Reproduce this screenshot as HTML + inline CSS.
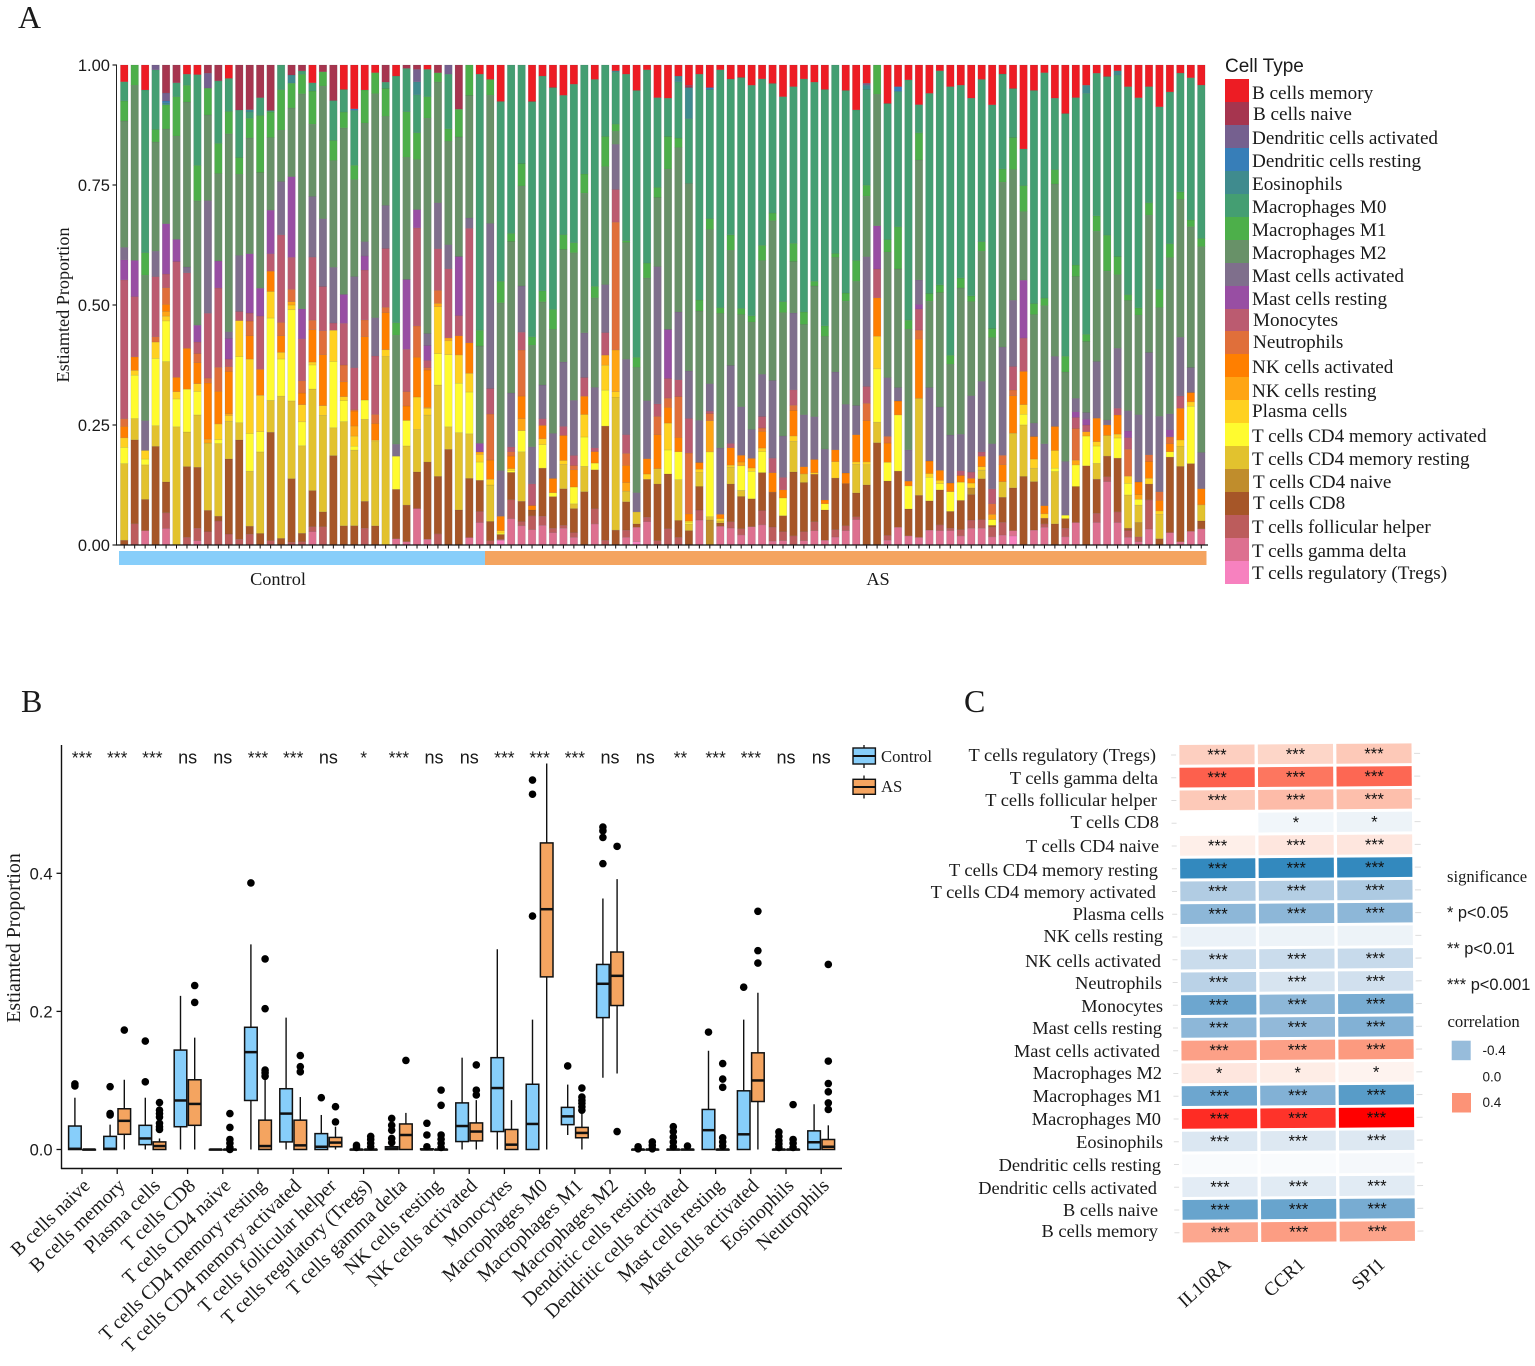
<!DOCTYPE html>
<html lang="en">
<head>
<meta charset="utf-8">
<title>Immune cell infiltration figure</title>
<style>
html,body{margin:0;padding:0;background:#fff;}
svg{display:block;}
.serif{font-family:"Liberation Serif",serif;fill:#1a1a1a;}
.sans{font-family:"Liberation Sans",sans-serif;fill:#1a1a1a;}
.lg{font-size:19.15px;}
.rw{font-size:18.4px;text-anchor:end;}
.letter{font-size:32px;}
</style>
</head>
<body>
<svg id="fig" width="1535" height="1366" viewBox="0 0 1535 1366" xmlns="http://www.w3.org/2000/svg">
  <text class="serif letter" x="18" y="28">A</text>
  <text class="serif letter" x="21" y="712">B</text>
  <text class="serif letter" x="964" y="712">C</text>

  <g id="panelA">
    <text class="serif" font-size="18.2" text-anchor="middle" transform="translate(69,305) rotate(-90)">Estiamted Proportion</text>
    <text class="serif" font-size="18.3" text-anchor="middle" x="278" y="585">Control</text>
    <text class="serif" font-size="18.3" text-anchor="middle" x="878" y="585">AS</text>
  </g>

  <g id="legendA">
    <text class="sans" font-size="19" x="1225" y="72">Cell Type</text>
    <rect x="1225" y="79" width="24" height="23" fill="#ED1C24"/>
    <rect x="1225" y="102" width="24" height="23" fill="#A6354F"/>
    <rect x="1225" y="125" width="24" height="23" fill="#75608F"/>
    <rect x="1225" y="148" width="24" height="23" fill="#377EB8"/>
    <rect x="1225" y="171" width="24" height="23" fill="#3F8B8E"/>
    <rect x="1225" y="194" width="24" height="23" fill="#449E72"/>
    <rect x="1225" y="217" width="24" height="23" fill="#4DAF4A"/>
    <rect x="1225" y="240" width="24" height="23" fill="#689168"/>
    <rect x="1225" y="263" width="24" height="23" fill="#7F6F8C"/>
    <rect x="1225" y="286" width="24" height="23" fill="#984EA3"/>
    <rect x="1225" y="309" width="24" height="23" fill="#BB5B70"/>
    <rect x="1225" y="331" width="24" height="23" fill="#E06F3A"/>
    <rect x="1225" y="354" width="24" height="23" fill="#FF7F00"/>
    <rect x="1225" y="377" width="24" height="23" fill="#FFA514"/>
    <rect x="1225" y="400" width="24" height="23" fill="#FFD121"/>
    <rect x="1225" y="423" width="24" height="23" fill="#FFFB2F"/>
    <rect x="1225" y="446" width="24" height="23" fill="#E2C22E"/>
    <rect x="1225" y="469" width="24" height="23" fill="#C08D2C"/>
    <rect x="1225" y="492" width="24" height="23" fill="#A65628"/>
    <rect x="1225" y="515" width="24" height="23" fill="#BC5C5C"/>
    <rect x="1225" y="538" width="24" height="23" fill="#DD7090"/>
    <rect x="1225" y="561" width="24" height="23" fill="#F781BF"/>
    <text class="serif lg" x="1252" y="99">B cells memory</text>
    <text class="serif lg" x="1253" y="120">B cells naive</text>
    <text class="serif lg" x="1252" y="144">Dendritic cells activated</text>
    <text class="serif lg" x="1252" y="167">Dendritic cells resting</text>
    <text class="serif lg" x="1252" y="190">Eosinophils</text>
    <text class="serif lg" x="1252" y="213">Macrophages M0</text>
    <text class="serif lg" x="1252" y="236">Macrophages M1</text>
    <text class="serif lg" x="1252" y="259">Macrophages M2</text>
    <text class="serif lg" x="1252" y="282">Mast cells activated</text>
    <text class="serif lg" x="1252" y="305">Mast cells resting</text>
    <text class="serif lg" x="1253" y="326">Monocytes</text>
    <text class="serif lg" x="1253" y="348">Neutrophils</text>
    <text class="serif lg" x="1252" y="373">NK cells activated</text>
    <text class="serif lg" x="1252" y="397">NK cells resting</text>
    <text class="serif lg" x="1252" y="417">Plasma cells</text>
    <text class="serif lg" x="1252" y="442">T cells CD4 memory activated</text>
    <text class="serif lg" x="1252" y="465">T cells CD4 memory resting</text>
    <text class="serif lg" x="1253" y="488">T cells CD4 naive</text>
    <text class="serif lg" x="1253" y="509">T cells CD8</text>
    <text class="serif lg" x="1252" y="533">T cells follicular helper</text>
    <text class="serif lg" x="1252" y="557">T cells gamma delta</text>
    <text class="serif lg" x="1252" y="579">T cells regulatory (Tregs)</text>
  </g>

  <g id="panelB">
    <text class="serif" font-size="19.9" text-anchor="middle" transform="translate(20,938) rotate(-90)">Estiamted Proportion</text>
  </g>
  <g id="legendB">
    <line x1="864" y1="745" x2="864" y2="768" stroke="#111" stroke-width="1.3"/>
    <rect x="853" y="748" width="22.4" height="16" fill="#87CEFA" stroke="#111" stroke-width="1.4"/>
    <line x1="853" y1="756" x2="875.4" y2="756" stroke="#111" stroke-width="2"/>
    <text class="serif" font-size="16.7" x="881" y="762">Control</text>
    <line x1="864" y1="775.5" x2="864" y2="798.5" stroke="#111" stroke-width="1.3"/>
    <rect x="853" y="779.3" width="22.4" height="15" fill="#F4A460" stroke="#111" stroke-width="1.4"/>
    <line x1="853" y1="787" x2="875.4" y2="787" stroke="#111" stroke-width="2"/>
    <text class="serif" font-size="16.7" x="881" y="792">AS</text>
  </g>

  <g id="panelC">
    <g id="heatCells" transform="rotate(-0.4 1179 745)"></g>
    <text class="serif rw" x="1156" y="761">T cells regulatory (Tregs)</text>
    <text class="serif rw" x="1158" y="784">T cells gamma delta</text>
    <text class="serif rw" x="1157" y="806">T cells follicular helper</text>
    <text class="serif rw" x="1159" y="828">T cells CD8</text>
    <text class="serif rw" x="1159" y="852">T cells CD4 naive</text>
    <text class="serif rw" x="1158" y="876">T cells CD4 memory resting</text>
    <text class="serif rw" x="1156" y="898">T cells CD4 memory activated</text>
    <text class="serif rw" x="1164" y="920">Plasma cells</text>
    <text class="serif rw" x="1163" y="942">NK cells resting</text>
    <text class="serif rw" x="1161" y="967">NK cells activated</text>
    <text class="serif rw" x="1162" y="989">Neutrophils</text>
    <text class="serif rw" x="1163" y="1012">Monocytes</text>
    <text class="serif rw" x="1162" y="1034">Mast cells resting</text>
    <text class="serif rw" x="1160" y="1057">Mast cells activated</text>
    <text class="serif rw" x="1162" y="1079">Macrophages M2</text>
    <text class="serif rw" x="1162" y="1102">Macrophages M1</text>
    <text class="serif rw" x="1161" y="1125">Macrophages M0</text>
    <text class="serif rw" x="1163" y="1148">Eosinophils</text>
    <text class="serif rw" x="1161" y="1171">Dendritic cells resting</text>
    <text class="serif rw" x="1157" y="1194">Dendritic cells activated</text>
    <text class="serif rw" x="1158" y="1216">B cells naive</text>
    <text class="serif rw" x="1158" y="1237">B cells memory</text>
    <text class="serif" font-size="19" text-anchor="end" transform="translate(1232,1266) rotate(-42)">IL10RA</text>
    <text class="serif" font-size="19" text-anchor="end" transform="translate(1306,1266) rotate(-42)">CCR1</text>
    <text class="serif" font-size="19" text-anchor="end" transform="translate(1386,1266) rotate(-42)">SPI1</text>
  </g>
  <g id="legendC">
    <text class="serif" font-size="16.6" x="1447" y="882">significance</text>
    <text class="sans" font-size="16.4" x="1447" y="918">* p&lt;0.05</text>
    <text class="sans" font-size="16.4" x="1447" y="954">** p&lt;0.01</text>
    <text class="sans" font-size="16.4" x="1447" y="990">*** p&lt;0.001</text>
    <text class="serif" font-size="16.7" x="1447.5" y="1027">correlation</text>
    <rect x="1451.7" y="1040.7" width="19" height="19.5" fill="#97BCDB"/>
    <rect x="1452" y="1093" width="19" height="19.5" fill="#FC9377"/>
    <text class="sans" font-size="13.5" x="1482.5" y="1055">-0.4</text>
    <text class="sans" font-size="13.5" x="1482.5" y="1081.5">0.0</text>
    <text class="sans" font-size="13.5" x="1482.5" y="1107">0.4</text>
  </g>
</svg>
<script>
/* ---------- Panel A: estimated % per sample (104 samples) ---------- */
const bMemory=[3.5,0,5.2,0,0,0,1.9,2,0,0,
2.8,0,0,0,0,0,0,0,3.7,0,
0,5.1,9.1,5.2,1.6,0,2.3,0,0,.9,
0,0,0,0,1.9,3,7.6,0,0,7.4,
2.3,4.7,6.3,4,0,3,0,1.2,1.9,5.3,
1,6.8,6.9,2.3,4.2,1.9,4.7,1,2.9,2.6,
4.2,2.9,3.8,6.6,4.5,2.9,3.6,5.1,0,5.3,
9.4,3.8,0,8,4.5,3.1,8.3,5.9,1.2,4.5,
4.2,6.9,3,8.3,1.9,4.9,17.4,5.3,1.6,6.9,
10.1,6.8,4.2,1.7,2.4,1.2,4.5,6.8,4.5,8.7,
5.6,1.7,2.6,4.1];
const bNaive=[0,0,0,0,5.9,3.7,0,0,1.7,3.3,
0,9.4,9.5,6.8,9.4,0,2.1,1.2,0,1.4,
7.4,0,0,0,0,3.5,0,.7,.9,0,
1.6,0,9.2,0,0,0,0,0,0,0,
0,0,0,0,0,0,0,0,0,0,
0,0,0,0,.5,0,0,0,0,0,
0,0,0,0,0,0,0,0,0,0,
0,0,0,0,0,0,0,0,0,0,
0,0,0,0,0,0,0,0,0,0,
0,0,0,0,0,0,0,0,0,0,
0,0,0,0];
const dcActivated=[0,0,0,1,1.7,0,0,0,3.1,0,
0,0,0,0,0,0,0,0,0,0,
0,0,0,0,0,0,0,0,2.6,0,
0,1.9,0,0,0,0,0,0,0,0,
0,0,0,0,0,0,0,0,0,0,
0,0,0,0,0,0,0,0,0,0,
0,0,0,0,0,0,0,0,0,0,
0,.4,0,0,0,0,0,0,0,0,
0,0,0,0,0,0,0,0,0,0,
0,0,0,0,0,0,0,0,0,0,
0,0,0,0];
const dcResting=[0,0,0,0,.4,0,0,0,0,0,
0,0,0,0,0,0,0,0,0,0,
0,0,.3,0,0,0,0,0,0,0,
0,0,0,0,0,0,0,0,0,0,
0,0,0,0,0,0,0,0,0,0,
0,0,0,0,0,0,.4,0,0,0,
0,0,0,0,0,0,0,0,0,0,
0,0,0,0,1,0,0,0,0,0,
0,0,0,0,0,0,0,0,0,0,
0,0,0,0,0,0,0,0,0,0,
0,0,0,0];
const eosinophils=[0,0,0,0,.4,0,0,0,0,0,
0,0,.5,0,0,0,1.7,0,0,0,
0,0,0,0,0,0,0,0,2.7,0,
0,0,0,0,0,0,0,0,0,0,
0,0,0,0,0,0,0,.3,0,0,
0,0,0,1.2,6.5,0,0,0,0,0,
0,0,0,0,0,0,0,0,0,0,
0,.9,0,0,0,0,0,0,0,0,
0,0,0,0,0,0,0,0,0,0,
0,0,1.7,0,0,.9,0,0,0,0,
0,0,0,0];
const macrophagesM0=[4,0,33.9,12.4,0,2.9,2.3,18.9,0,13,
6.9,9.9,1.3,3.7,.3,5.2,0,.7,1.7,0,
8.3,4.7,11.4,0,0,1.3,51.4,9,7.9,5.7,
0,11.4,0,0,53.4,0,37.5,35,20.5,47.7,
44.7,46.3,29,33.1,22.7,43.2,14.9,10.8,34.7,55.6,
40.3,18.7,8,11.7,13.5,47.1,26.9,49.5,32.2,48.1,
47.9,34.7,26.7,42.7,32.6,48.5,41.9,49.3,38,42.2,
31.5,19.9,0,28.3,28.2,50,5.9,41.7,44.7,55.9,
40.2,41.2,33.8,46.6,20.1,10.2,7.6,44.4,47,14.9,
50.5,34.9,50.2,29.7,33,37.8,43.2,43.7,24.2,38,
31.6,25.1,29,31.3];
const macrophagesM1=[4.2,4.2,4.7,2.6,5.1,8.2,3.5,7.4,5.6,6.3,
4.7,3.5,4.2,11.9,5.3,8.5,5.2,4,6.9,3,
4.2,3.3,3,6.9,4.4,5.7,2.6,9.5,5.6,4.5,
1.9,2.6,5.8,6.5,3.3,3.3,4.5,1.7,4.7,1.7,
2.3,4.2,3.1,2.1,4,2.4,6.3,1.5,.4,2.1,
3.1,2.1,6.8,2,0,2.3,2.3,1.2,3.2,1.3,
1.3,3.2,1.6,2.3,3.8,2.6,1,2.2,.8,1.7,
4.4,2.3,6.1,2.6,8.8,1.9,5.7,1.6,1.6,1.9,
2.1,1.2,2,1.9,2.8,6.7,5.4,2.3,1.6,3,
3.3,2.4,1.5,3.2,7.5,3.8,1.2,1.5,2.6,3.8,
2.9,1.6,1.4,1.7];
const macrophagesM2=[26.4,36.3,30.3,22.7,20,21.5,34.3,25.9,17.8,18.2,
41.4,16.9,24.6,24.1,15,10.8,14.4,44,15,27.6,
22.2,34.7,20.1,24.7,46.8,18.2,22.7,25.4,10.4,44.9,
25,21.5,24.9,26.1,20.3,26.7,35,31.5,20.8,20.6,
17.3,21.7,23.4,30.8,29.1,18.7,24.6,2.7,24.3,26.1,
25.6,14.4,33.4,34.2,39.1,22.8,32.1,28,23.8,19.2,
22.3,23.7,32.9,25.7,10.7,18.8,27.5,23.5,23.1,21.5,
26,12.6,27.4,26.1,24.7,25.1,25.1,18,23.9,14.7,
30.5,19.6,27.1,22.1,34.9,27.2,14.2,22.6,28.8,35.9,
18.6,25.4,14.8,27.1,31,15.3,22.9,20.7,28.6,22.6,
32.5,29.1,28.7,42];
const mastActivated=[2.6,0,6.2,5.3,0,0,1.2,0,23.4,0,
1.4,11.7,0,0,0,11.2,0,0,12.6,14.1,
11.6,0,18.9,3,8,8.8,2.5,0,0,2.5,
9.5,5,0,2.2,0,34.4,9.5,11.2,9.6,7.5,
7,9.4,13.4,11.5,9.3,12.6,10,9.4,15.7,4,
12.1,28.6,0,14.1,9.9,8.8,5.7,13.8,16.1,10.1,
6,8.8,16,8.6,16,10.8,9,10.6,15.7,14.3,
6.1,27,0,12.2,2.8,6.5,5.1,15.3,13.2,10,
7.6,15.9,14.7,9.4,22.9,13.8,0,2.8,12.9,14.6,
11.2,2.8,1.4,11.8,1,12.5,4.2,14,21.3,15.7,
3.3,12.4,5.1,7.4];
const mastResting=[4.2,7.5,0,0,10.6,4.6,0,3.5,0,5.6,
4.3,0,12.6,5.8,9,0,16.9,6.1,0,0,
0,6,0,2.9,0,0,0,14.5,3.8,3.1,
0,0,12.3,0,1.8,0,0,0,0,0,
0,0,0,0,0,0,0,0,0,0,
0,0,10.2,0,0,0,0,0,0,0,
0,0,0,0,0,0,0,0,0,0,
0,0,9,0,0,0,1,0,0,0,
0,0,0,0,0,0,12,0,0,0,
0,1.2,1.2,0,0,0,1.4,0,0,0,
1.5,0,0,0];
const monocytes=[29,12.5,0,12.5,2.9,24.1,15.7,2.4,13.5,16.5,
1.6,1.9,1.7,11.1,3.6,18.4,6.7,8.6,13.1,9.2,
1.5,8.7,8.7,10.4,12.2,12,0,8.8,20.4,1.5,
8.6,14.4,4.2,24.4,0,5.3,0,1,3.7,4.4,
1.4,0,1.9,2.1,3.9,.8,4.7,6.8,3.9,0,
0,2.6,4.1,3.5,7.2,0,.5,0,.9,0,
0,2.4,3,2.6,3.2,0,0,0,0,0,
0,3.5,6,0,0,0,4.4,0,0,0,
1,1.3,.9,3.1,0,4.9,6.9,0,0,0,
0,2.3,1.4,0,0,1.4,2.4,0,0,0,
0,2.6,0,0];
const neutrophils=[1.6,0,0,1.1,3.5,0,0,1.9,1,5,
1,0,3.1,0,0,2.8,2.6,2.5,2,5,
0,3.5,.3,3.5,1.9,1.1,0,3,6.5,.5,
2.7,0,0,0,0,9.6,0,.9,9.6,0,
0,0,0,.9,0,0,0,26.6,2.5,0,
0,3.8,1.9,8.5,12.7,0,1.5,0,0,0,
0,.7,0,0,1.1,0,0,0,0,0,
0,3.6,0,1.4,0,0,1.9,0,0,0,
0,0,0,2.2,2,1.2,0,0,0,0,
0,6.6,0,0,0,0,5.6,0,1.4,1.8,
1.4,0,0,0];
const nkActivated=[2.4,2.8,0,0,1.5,3,8.5,4.4,11.7,6.8,
8.8,0,5,5.4,4.2,3.5,0,2.4,6.7,10.6,
0,3.1,3.1,13.2,3.5,7.6,0,3,8.3,7.8,
0,0,4,6.5,0,4,3,2.6,4.7,.9,
2.8,3,5.2,3.6,3.8,2.4,0,0,3.6,0,
3.2,7.1,3.3,3,1.5,1.4,0,.9,3.6,1.4,
2,3.5,4,1.7,5.3,1.5,2.8,.8,2.4,2.2,
5.7,8.6,8,4,2.9,1,12.4,2.6,2.1,1.8,
1.4,1,2.2,0,3.6,7.8,6.9,4.7,1.7,5,
0,0,0,4.9,2.2,4,0,2.6,3.5,2.2,
1.7,6.7,1.9,3.3];
const nkResting=[0,0,0,0,1,0,0,0,.8,0,
.4,0,0,0,0,0,.7,0,0,0,
0,0,2.1,0,0,0,0,0,0,.2,
.7,.6,0,0,.5,0,0,0,2.5,0,
0,0,0,0,0,0,2.1,8.7,1.8,0,
0,0,0,0,0,0,6.5,0,0,.8,
0,0,0,0,0,0,0,0,0,0,
0,0,0,0,0,0,0,0,0,0,
0,0,0,1.1,0,0,0,0,0,0,
0,1,.9,0,0,0,0,1,0,0,
0,0,0,0];
const plasmaCells=[2,1,1.8,3.4,1,1.5,0,1.6,0,3.3,
1.2,7.5,15.8,7.6,5.5,1.4,1,3.5,.6,2,
6.5,.8,2.1,0,.3,1.4,0,0,6.8,1.4,
9.7,2.9,5.9,4,1.6,1.2,.5,.4,0,0,
1.2,0,.8,0,4.7,0,5.2,1.2,0,0,
1.1,0,5.6,0,.3,.7,0,.5,.4,0,
.7,.7,0,0,1.1,0,.3,0,3.3,0,
.5,.6,6.8,0,0,0,0,.8,.7,0,
0,1,.7,0,0,0,2,1.9,.9,3.7,
0,0,0,.9,0,.8,1.5,0,1.2,.7,
0,1.4,.9,0];
const cd4MemoryActivated=[3.4,9,1.2,14,8.6,5.8,8.9,4.9,0,.8,
0,13.8,8,4.2,17,7.8,19.1,4.9,5,0,
13.8,4.4,.8,4,0,0,6.9,5.3,0,0,
6.5,15,10.3,8.9,3.8,0,.3,.4,4.4,0,
4.9,.8,0,3.5,6.1,1.4,7.5,0,0,0,
0,0,5,5.8,.3,0,13.5,0,0,5.1,
5.7,4.4,0,3.7,0,0,0,1.3,0,0,
0,0,11.1,3.9,11.7,4.8,0,4.9,1.3,4.1,
3.8,0,0,1.2,0,0,2.2,0,0,.7,
.7,4.5,6.2,3.6,0,4.2,2.4,1.2,0,0,
1.1,0,11.7,0];
const cd4MemoryResting=[16,4.4,7.2,4.3,25.4,24.6,7.2,10.9,14,15.1,
7.9,3.6,11.7,17,6.6,29.9,16.3,17.9,21.1,20.1,
5.8,21.7,15.7,17.1,17.6,38.5,0,12.3,8.8,9.8,
18.9,4.7,16.1,9.5,0,7.6,0,0,10.3,0,
0,0,5.1,1,5.3,0,0,27.6,2.2,2.5,
0,3.2,0,8.5,1.4,2.9,.7,.4,3.5,1.3,
0,0,0,0,6.4,1.8,0,0,0,0,
6,4.2,4.3,0,0,0,20.3,0,0,0,
0,0,1.8,0,3.3,11.4,10.7,2.8,0,10.9,
0,0,0,3.3,4.3,0,6.9,3.6,0,5.1,
0,4.2,0,3.3];
const cd4Naive=[0,0,0,0,0,0,0,0,0,0,
0,0,0,0,0,0,0,0,0,0,
0,0,0,0,0,0,0,0,0,0,
0,0,0,0,0,0,0,0,0,0,
0,0,0,0,0,0,0,0,0,0,
0,0,0,0,0,0,5.2,0,0,0,
0,0,0,0,0,0,0,0,0,0,
0,0,0,0,0,0,0,0,0,0,
0,1.4,0,0,0,0,0,0,0,0,
0,0,0,0,0,0,0,3,0,0,
0,0,0,0];
const cd8=[1,17.4,6.5,20.5,6.5,0,14.7,12.7,4.4,1,
15.7,20.7,1.7,2.4,22.4,1.4,13.3,1.7,7.5,3.1,
18.6,4,4,5.6,4,0,10.3,7.6,7.6,16.1,
11.9,19.9,7.3,12.6,6.5,4,1,5.7,4.2,1.2,
10,6.6,7.6,5,11.1,8.1,23.8,3.1,5.9,.7,
7.9,11.8,11.4,3.5,3,4.9,0,.7,7.8,6.7,
5.8,7.9,7.2,3.3,13.3,10.2,10,6.3,10.4,8.8,
5,12.5,21.3,11.3,11.7,5.6,8.8,6.1,7.3,3.5,
6.1,5.3,8.5,.4,5.3,8.9,14.2,10.1,1.2,4.4,
2,7.5,16.5,7.1,4.3,11.2,.5,0,3.3,1.3,
15.7,15.9,13.8,1.6];
const follicularHelper=[0,4.4,0,0,3.3,0,1.6,2.6,2.8,5,
2.3,1.2,2.3,0,.9,0,.6,.7,1,3.8,
0,0,0,3.5,0,0,0,0,0,0,
2.3,0,0,0,2.3,.9,.2,3.9,.9,2.8,
1.9,.9,.6,1,0,3.2,1,0,1.5,0,
.9,.9,3.4,1.6,0,2.1,0,0,1.3,1.3,
0,3,2.9,1.9,1.9,1.9,1.9,0,1.5,1,
.6,0,0,1,0,0,0,0,1.2,.5,
1.3,1.7,1.8,2,2.7,0,0,0,.7,0,
1.8,0,0,1.9,1,2.2,1.4,1,6.1,0,
0,0,0,0];
const gammaDelta=[0,0,3,0,3.5,0,0,.9,0,0,
0,0,0,0,0,0,0,0,2.8,0,
0,0,0,0,0,0,1.3,.7,7.6,1.2,
0,0,0,1.6,4.7,0,0,5.5,4,3.1,
4.1,2.6,3.5,1.6,0,4.4,0,0,1.6,3,
4.9,0,0,0,0,5.2,0,3.9,3.5,2.1,
3.8,4.2,.8,.9,0,.9,3,1,1.6,3,
5.3,0,0,1,3.7,1.9,1.6,3.1,3,3,
1.9,3.5,3.5,1.7,2.1,1.1,0,3.1,3.7,0,
1.7,4.7,0,4.7,13.2,4.7,1.6,.7,3.3,0,
2.6,.7,2.8,3.3];
const tregs=[0,0,0,0,0,0,0,0,0,0,
0,0,0,0,0,0,0,0,0,0,
0,0,0,0,0,0,0,0,0,0,
0,0,0,0,0,0,1,0,0,0,
0,0,0,0,0,0,0,0,0,.7,
0,0,0,0,0,0,0,0,0,0,
0,0,0,0,0,0,0,0,0,0,
0,0,0,0,0,0,0,0,0,0,
0,0,0,0,0,1.9,0,0,0,0,
0,0,0,0,0,0,0,0,0,0,
0,0,0,0];
const controlSampleCount=35;
const proportionTicks=["0.00","0.25","0.50","0.75","1.00"];
const proportionTickValues=[0,.25,.5,.75,1];

/* ---------- Panel B: box statistics per category ---------- */
const boxCategories=["B cells naive","B cells memory","Plasma cells","T cells CD8","T cells CD4 naive","T cells CD4 memory resting","T cells CD4 memory activated","T cells follicular helper","T cells regulatory (Tregs)","T cells gamma delta","NK cells resting","NK cells activated","Monocytes","Macrophages M0","Macrophages M1","Macrophages M2","Dendritic cells resting","Dendritic cells activated","Mast cells resting","Mast cells activated","Eosinophils","Neutrophils"];
const boxSignificance=["***","***","***","ns","ns","***","***","ns","*","***","ns","ns","***","***","***","ns","ns","**","***","***","ns","ns"];
const controlQ1=[0,0,.007,.033,0,.071,.011,0,0,0,0,.0115,.026,0,.036,.191,0,0,0,0,0,0];
const controlMedian=[.001,.001,.016,.071,0,.141,.052,.004,0,.001,0,.034,.089,.037,.048,.24,0,0,.028,.022,0,.0105];
const controlQ3=[.034,.019,.035,.144,0,.177,.088,.023,0,.004,.001,.0675,.133,.0945,.061,.268,0,0,.058,.085,0,.027];
const controlLow=[0,0,0,0,0,0,0,0,0,0,0,0,0,0,.021,.104,0,0,0,0,0,0];
const controlHigh=[.075,.036,.075,.2225,0,.297,.191,.05,0,.004,.001,.133,.29,.188,.094,.3635,0,0,.143,.188,0,.0655];
const controlOutliers=[[.095,.092],[.091,.052,.05],[.157,.098],[],[],[.386],[],[.075],[.006,.003],[.045,.035,.028,.016,.01],[.038,.021,.004],[],[],[.535,.5145,.338],[.121],[.467,.4615,.452,.414],[.004,.001],[.033,.026,.018,.011,.004],[.17],[.235],[.0255,.019,.013,.008,.003],[]];
const asQ1=[0,.022,0,.035,0,0,0,.004,0,0,0,.0125,0,.25,.017,.2085,0,0,0,.0695,0,0];
const asMedian=[0,.0415,.005,.066,0,.005,.006,.01,0,.021,0,.026,.007,.348,.024,.2515,0,0,0,.1,0,.004];
const asQ3=[0,.059,.011,.101,0,.0425,.0425,.0175,0,.037,0,.0385,.029,.444,.032,.286,0,0,0,.14,0,.0145];
const asLow=[0,0,0,0,0,0,0,0,0,0,0,0,0,0,0,.11,0,0,0,0,0,0];
const asHigh=[0,.101,.016,.162,0,.105,.076,.033,0,.053,0,.0715,.0715,.559,.052,.3915,0,0,0,.227,0,.035];
const asOutliers=[[],[.173],[.068,.057,.052,.047,.038,.033,.029],[.2375,.213],[.052,.032,.0145,.009,.003,0],[.276,.204,.115,.111,.106],[.136,.12,.1125],[.062,.04],[.019,.0145,.009,.004],[.129],[.086,.064,.021,.015,.009,.003],[.1225,.086,.079],[],[],[.089,.076,.071,.067,.062,.057],[.439,.026],[.011,.006,.001],[.005],[.1245,.102,.09,.017,.011,.005],[.345,.288,.27],[.065,.0145,.009,.003],[.268,.128,.0955,.0835,.0675,.058]];
const boxTickLabels=["0.0","0.2","0.4"];
const boxTickValues=[0,.2,.4];

/* ---------- Panel C: correlations per immune cell row ---------- */
const heatGenes=["IL10RA","CCR1","SPI1"];
const heatTregs=[.22,.2,.24];
const heatGammaDelta=[.47,.44,.46];
const heatFollicular=[.24,.28,.27];
const heatCd8=[0,-.07,-.09];
const heatCd4Naive=[.08,.12,.12];
const heatCd4Resting=[-.59,-.59,-.59];
const heatCd4Activated=[-.32,-.31,-.33];
const heatPlasma=[-.42,-.42,-.42];
const heatNkResting=[-.1,-.09,-.09];
const heatNkActivated=[-.24,-.24,-.25];
const heatNeutrophils=[-.29,-.2,-.22];
const heatMonocytes=[-.48,-.42,-.46];
const heatMastResting=[-.42,-.41,-.44];
const heatMastActivated=[.36,.36,.38];
const heatM2=[.12,.09,.06];
const heatM1=[-.48,-.44,-.52];
const heatM0=[.54,.53,.6];
const heatEosinophils=[-.18,-.17,-.17];
const heatDcResting=[-.03,-.03,-.05];
const heatDcActivated=[-.14,-.15,-.15];
const heatBNaive=[-.49,-.49,-.46];
const heatBMemory=[.34,.37,.35];
const heatStars=["***","***","***",["","*","*"],"***","***","***","***","","***","***","***","***","***","*","***","***","***","","***","***","***"];

const NS='http://www.w3.org/2000/svg';
function mk(tag,attrs,parent){
  const e=document.createElementNS(NS,tag);
  for(const k in attrs)e.setAttribute(k,attrs[k]);
  parent.appendChild(e);
  return e;
}

/* Panel A */
const stackOrder=[tregs,gammaDelta,follicularHelper,cd8,cd4Naive,cd4MemoryResting,cd4MemoryActivated,plasmaCells,nkResting,nkActivated,neutrophils,monocytes,mastResting,mastActivated,macrophagesM2,macrophagesM1,macrophagesM0,eosinophils,dcResting,dcActivated,bNaive,bMemory];
const stackColors=["#F781BF","#DD7090","#BC5C5C","#A65628","#C08D2C","#E2C22E","#FFFB2F","#FFD121","#FFA514","#FF7F00","#E06F3A","#BB5B70","#984EA3","#7F6F8C","#689168","#4DAF4A","#449E72","#3F8B8E","#377EB8","#75608F","#A6354F","#ED1C24"];
const stackNames=["tregs","gamma-delta","follicular-helper","cd8","cd4-naive","cd4-memory-resting","cd4-memory-activated","plasma","nk-resting","nk-activated","neutrophils","monocytes","mast-resting","mast-activated","m2","m1","m0","eosinophils","dc-resting","dc-activated","b-naive","b-memory"];
const panelA=document.getElementById('panelA');
const ax0=119, ax1=1206.5, ay1=65, ay0=545;
const sampleCount=bMemory.length;
const xA=i=>ax0+(ax1-ax0)*(i+.5)/sampleCount;
const yA=v=>ay0-(ay0-ay1)*v;
for(let i=0;i<sampleCount;i++){
  let total=0;
  for(const s of stackOrder)total+=(s[i]||0);
  let acc=0;
  const col=mk('g',{},panelA);
  
  
  stackOrder.forEach((s,k)=>{
    const v=(s[i]||0);
    if(v<=0)return;
    const f=v/(total||1);
    const top=yA(acc+f);
    const r=mk('rect',{x:(xA(i)-3.8).toFixed(2),y:top.toFixed(2),width:7.6,height:(yA(acc)-top).toFixed(2),fill:stackColors[k],stroke:'rgba(70,70,70,.22)','stroke-width':.5},col);
    
    
    acc+=f;
  });
  const t=mk('line',{x1:xA(i).toFixed(2),x2:xA(i).toFixed(2),y1:ay0,y2:ay0+3.5,stroke:'#111','stroke-width':1},panelA);
  
  
}
const axA=mk('line',{x1:116.5,x2:116.5,y1:ay1-.5,y2:ay0+.5,stroke:'#222','stroke-width':1},panelA);


const axAx=mk('line',{x1:116,x2:1208,y1:ay0,y2:ay0,stroke:'#111','stroke-width':1.2},panelA);


proportionTicks.forEach((lab,i)=>{
  const y=yA(proportionTickValues[i]);
  const tk=mk('line',{x1:112.5,x2:116.5,y1:y,y2:y,stroke:'#222','stroke-width':1.2},panelA);
  
  
  const tx=mk('text',{x:110,y:y+6,'text-anchor':'end','font-size':16.5,class:'sans'},panelA);
  tx.textContent=lab;
  
  
});
const stripC=mk('rect',{x:ax0,y:551,width:xA(controlSampleCount-1)+(ax1-ax0)/sampleCount/2-ax0,height:14,fill:'#87CEFA'},panelA);


const stripA=mk('rect',{x:xA(controlSampleCount-1)+(ax1-ax0)/sampleCount/2,y:551,width:ax1-(xA(controlSampleCount-1)+(ax1-ax0)/sampleCount/2),height:14,fill:'#F4A460'},panelA);



/* Panel B */
const panelB=document.getElementById('panelB');
const xB=i=>82+35.2*i;
const yB=v=>1149.5-690.5*v;
function drawBox(x,q1,med,q3,lo,hi,outs,fill,grp){
  const g=mk('g',{},panelB);
  
  
  const w=mk('line',{x1:x,x2:x,y1:yB(lo),y2:yB(hi),stroke:'#111','stroke-width':1.4},g);
  
  
  const b=mk('rect',{x:x-6.3,y:yB(q3),width:12.6,height:Math.max(yB(q1)-yB(q3),.5),fill:fill,stroke:'#111','stroke-width':1.5},g);
  
  
  const m=mk('line',{x1:x-6.3,x2:x+6.3,y1:yB(med),y2:yB(med),stroke:'#111','stroke-width':2.5},g);
  
  
  outs.forEach(o=>{
    const c=mk('circle',{cx:x,cy:yB(o),r:3.8,fill:'#000'},g);
    
    
  });
}
boxCategories.forEach((name,i)=>{
  drawBox(xB(i)-7.1,controlQ1[i],controlMedian[i],controlQ3[i],controlLow[i],controlHigh[i],controlOutliers[i],'#87CEFA','control');
  drawBox(xB(i)+7.1,asQ1[i],asMedian[i],asQ3[i],asLow[i],asHigh[i],asOutliers[i],'#F4A460','as');
  const tk=mk('line',{x1:xB(i),x2:xB(i),y1:1168.5,y2:1174,stroke:'#111','stroke-width':1.3},panelB);
  
  
  const lb=mk('text',{'text-anchor':'end','font-size':19.6,class:'serif',transform:'translate('+(xB(i)+9)+',1187) rotate(-44)'},panelB);
  lb.textContent=name;
  
  
  const sg=mk('text',{x:xB(i),y:763.5,'text-anchor':'middle','font-size':boxSignificance[i]==='ns'?18:17.5,class:'sans'},panelB);
  sg.textContent=boxSignificance[i];
  
  
});
const byAx=mk('line',{x1:61.5,x2:61.5,y1:745,y2:1169,stroke:'#111','stroke-width':1.4},panelB);


const bxAx=mk('line',{x1:61,x2:842,y1:1168.5,y2:1168.5,stroke:'#111','stroke-width':1.4},panelB);


boxTickLabels.forEach((lab,i)=>{
  const y=yB(boxTickValues[i]);
  const tk=mk('line',{x1:56.5,x2:61.5,y1:y,y2:y,stroke:'#111','stroke-width':1.3},panelB);
  
  
  const tx=mk('text',{x:52.5,y:y+6,'text-anchor':'end','font-size':16.5,class:'sans'},panelB);
  tx.textContent=lab;
  
  
});

/* Panel C */
const heatRows=[heatTregs,heatGammaDelta,heatFollicular,heatCd8,heatCd4Naive,heatCd4Resting,heatCd4Activated,heatPlasma,heatNkResting,heatNkActivated,heatNeutrophils,heatMonocytes,heatMastResting,heatMastActivated,heatM2,heatM1,heatM0,heatEosinophils,heatDcResting,heatDcActivated,heatBNaive,heatBMemory];
const redStops=[[0,255,255,255],[.2,253,214,200],[.4,252,147,119],[.6,255,0,0]];
const blueStops=[[0,255,255,255],[.2,215,228,240],[.4,151,188,219],[.6,46,134,188]];
function heatColor(v){
  const st=v>=0?redStops:blueStops, a=Math.min(Math.abs(v),.6);
  for(let i=1;i<st.length;i++){
    if(a<=st[i][0]){
      const t=(a-st[i-1][0])/(st[i][0]-st[i-1][0]);
      const c=[1,2,3].map(k=>Math.round(st[i-1][k]+(st[i][k]-st[i-1][k])*t));
      return 'rgb('+c.join(',')+')';
    }
  }
  return 'rgb(255,0,0)';
}
const heat=document.getElementById('heatCells');
heatRows.forEach((row,i)=>{
  const y=745+22.75*i;
  const lt=mk('line',{x1:1171,x2:1176,y1:y+10,y2:y+10,stroke:'#ddd','stroke-width':1},heat);
  
  
  const rt=mk('line',{x1:1414,x2:1420,y1:y+10,y2:y+10,stroke:'#ddd','stroke-width':1},heat);
  
  
  row.forEach((v,j)=>{
    const x=1179.3+78.5*j;
    const c=mk('rect',{x:x,y:y,width:75.2,height:19.8,fill:heatColor(v)},heat);
    
    
    const star=Array.isArray(heatStars[i])?heatStars[i][j]:heatStars[i];
    if(star){
      const s=mk('text',{x:x+37.6,y:y+15.5,'text-anchor':'middle','font-size':16.5,class:'sans',style:'fill:#111'},heat);
      s.textContent=star;
      
      
    }
  });
});
</script>
</body>
</html>
